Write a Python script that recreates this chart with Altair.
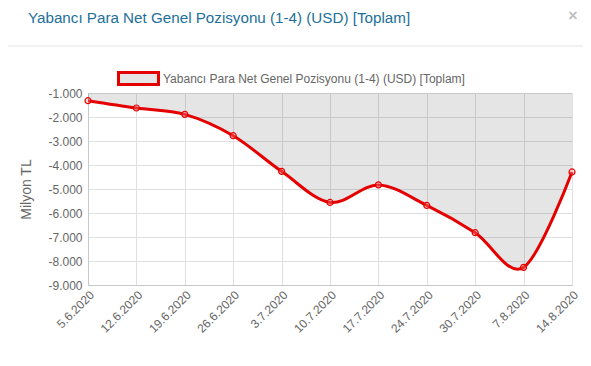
import altair as alt
import pandas as pd

dates = ["5.6.2020", "12.6.2020", "19.6.2020", "26.6.2020", "3.7.2020", "10.7.2020",
         "17.7.2020", "24.7.2020", "30.7.2020", "7.8.2020", "14.8.2020"]
values = [-1320, -1625, -1890, -2780, -4265, -5560, -4830, -5685, -6820, -8265, -4290]
series_name = "Yabancı Para Net Genel Pozisyonu (1-4) (USD) [Toplam]"
y_ticks = [-9000, -8000, -7000, -6000, -5000, -4000, -3000, -2000, -1000]

df = pd.DataFrame({"date": dates, "value": values, "series": series_name, "top": -1000})

RED = "#e50000"
GRAY = "#666666"
FONT = "Liberation Sans"

x_axis = alt.Axis(title=None, labelAngle=315, labelAlign="right", labelBaseline="top",
                  labelFontSize=12, labelColor=GRAY, labelFont=FONT, labelPadding=4,
                  grid=True, gridColor="#e0e0e0", domainColor="#c8c8c8", tickSize=0,
                  labelOverlap=False)
y_axis = alt.Axis(values=y_ticks, tickCount=9, title="Milyon TL", titleFontSize=14, titleFont=FONT,
                  titleFontWeight="normal", titleColor=GRAY, titlePadding=14,
                  labelFontSize=12, labelColor=GRAY, labelFont=FONT, labelPadding=6,
                  labelOverlap=False,
                  labelExpr="replace(replace(format(datum.value, ','), ',', '.'), '\u2212', '-')",
                  gridColor="#e0e0e0", domainColor="#c8c8c8", tickSize=0)
x_scale = alt.Scale(type="point", padding=0)
y_scale = alt.Scale(domain=[-9000, -1000], nice=False, zero=False)


def X():
    return alt.X("date:N", sort=dates, scale=x_scale, axis=x_axis)


def Y():
    return alt.Y("value:Q", scale=y_scale, axis=y_axis)


area = alt.Chart(df).mark_area(interpolate="cardinal", color="#000000", opacity=0.1).encode(
    x=X(), y=Y(), y2="top:Q",
)

line = alt.Chart(df).mark_line(interpolate="cardinal", strokeWidth=3).encode(
    x=X(), y=Y(),
    color=alt.Color("series:N", scale=alt.Scale(range=[RED]),
                    legend=alt.Legend(title=None, orient="none", legendX=29, legendY=-36,
                                      symbolType="M-1,-0.3H1V0.3H-1Z", symbolSize=1600,
                                      symbolStrokeWidth=3, symbolFillColor="#e5e5e5",
                                      symbolStrokeColor=RED, labelFontSize=12, labelColor=GRAY,
                                      labelFont=FONT, labelOffset=3, labelLimit=500)),
)

points = alt.Chart(df).mark_point(shape="circle", size=36, strokeWidth=1.2, color=RED,
                                  fill="#ff9999", fillOpacity=0.3, filled=False).encode(
    x=X(), y=Y(),
)

title_df = pd.DataFrame({"t": [series_name]})
title = alt.Chart(title_df).mark_text(align="left", baseline="middle", fontSize=15.2, font=FONT,
                                      color="#22709a").encode(
    text="t:N", x=alt.value(-60), y=alt.value(-75))

close = alt.Chart(pd.DataFrame({"t": ["×"]})).mark_text(align="center", baseline="middle",
                                                        fontSize=16, font=FONT, fontWeight="bold",
                                                        color="#c0c0c0").encode(
    text="t:N", x=alt.value(485), y=alt.value(-77))

sep = alt.Chart(pd.DataFrame({"a": [0]})).mark_rule(color="#e5e5e5", strokeWidth=1).encode(
    x=alt.value(-80), x2=alt.value(510), y=alt.value(-47))

chart = alt.layer(area, line, points, title, close, sep).properties(
    width=484, height=192,
    autosize=alt.AutoSizeParams(type="none"),
    padding={"left": 80, "top": 85, "right": 11, "bottom": 73},
).configure_view(stroke=None)

chart.save("out.html", embed_options={"renderer": "svg", "actions": False})
